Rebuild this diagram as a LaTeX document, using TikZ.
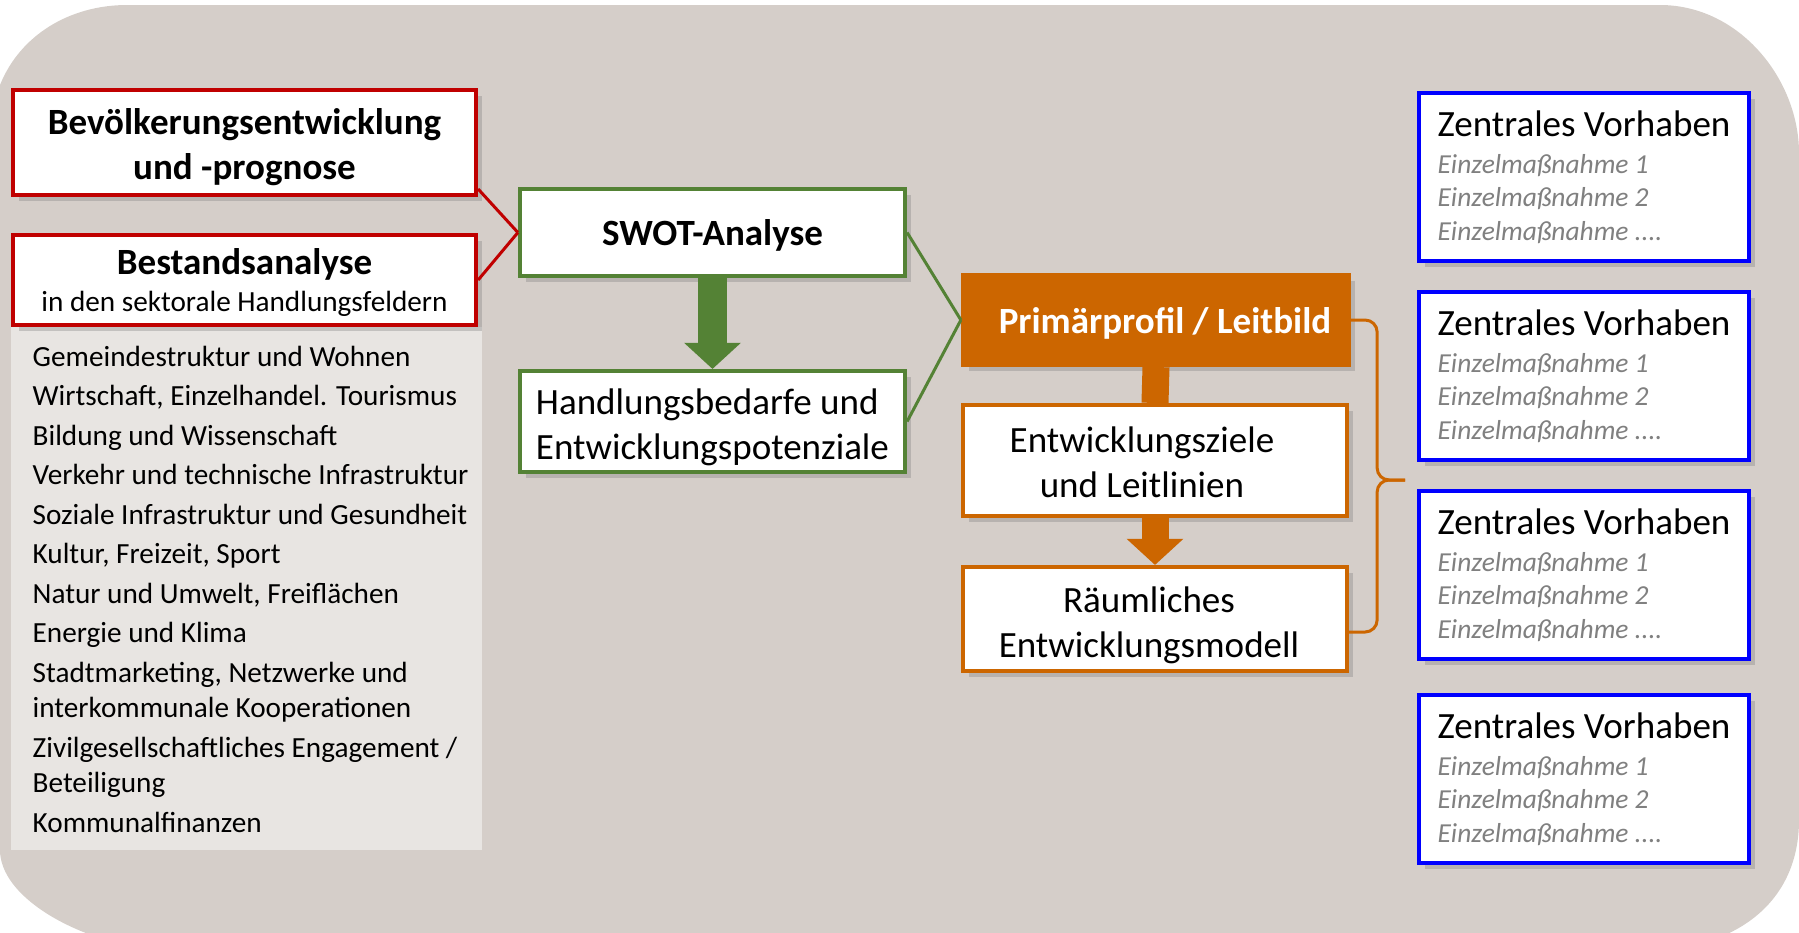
\documentclass[tikz,border=0pt]{standalone}
\usepackage{fontspec}
\setmainfont{Carlito}
\usepackage{xcolor}
\usetikzlibrary{arrows.meta, positioning, shadows}

\definecolor{bgbeige}{RGB}{213,206,201}
\definecolor{panelgray}{RGB}{232,229,226}
\definecolor{redLB}{RGB}{192,0,0}
\definecolor{greenLB}{RGB}{84,130,53}
\definecolor{orangeLB}{RGB}{204,102,0}
\definecolor{blueLB}{RGB}{0,0,255}
\definecolor{grayLB}{RGB}{128,128,128}

\newcommand{\sizeL}{\fontsize{10.53}{10.53}\selectfont}
\newcommand{\massnahme}[1]{{\itshape\color{grayLB}Einzelmaßnahme #1}}
% struts that fix where the text sits in a box
\newcommand{\padtop}[1]{\rule{0pt}{#1}}
\newcommand{\padbot}[1]{\rule[-#1]{0pt}{#1}}

\begin{document}
\begin{tikzpicture}[
  x=0.01cm, y=-0.01cm,
  box/.style={
    rectangle,
    draw=#1,
    line width=0.04cm,
    fill=white,
    inner sep=0pt,
    drop shadow={shadow xshift=0.06cm, shadow yshift=-0.06cm, opacity=0.35},
    align=center
  },
  vorhaben/.style={
    box=blueLB,
    minimum width=3.30cm,
    minimum height=1.68cm,
    align=left,
    font=\fontsize{7.8}{9.53}\selectfont
  },
  link/.style={
    draw=#1,
    line width=0.03cm
  },
  blockarrow/.style={
    draw=#1,
    -{Triangle[width=0.55cm, length=0.26cm]}
  }
]
\useasboundingbox (0,0) rectangle (1799,933);
\clip (0,0) rectangle (1799,933);

% Background
\fill[bgbeige] (127,5) -- (1660,5) .. controls (1740,5) and (1799,80) .. (1799,153)
  -- (1799,820) .. controls (1799,900) and (1740,945) .. (1660,950)
  -- (150,950) .. controls (70,938) and (0,895) .. (0,850)
  -- (0,85) .. controls (20,35) and (70,5) .. (127,5) -- cycle;

% Sectoral fields
\node[fill=panelgray, inner sep=0pt, minimum width=4.71cm, minimum height=5.23cm] (liste) at (246.5,588.5) {};
\node[anchor=north west, inner sep=0pt, align=left, font=\fontsize{8.31}{10.1}\selectfont] (felder) at (32,345) {%
  Gemeindestruktur und Wohnen\\[1.14pt]
  Wirtschaft, Einzelhandel. Tourismus\\[1.14pt]
  Bildung und Wissenschaft\\[1.14pt]
  Verkehr und technische Infrastruktur\\[1.14pt]
  Soziale Infrastruktur und Gesundheit\\[1.14pt]
  Kultur, Freizeit, Sport\\[1.14pt]
  Natur und Umwelt, Freiflächen\\[1.14pt]
  Energie und Klima\\[1.14pt]
  Stadtmarketing, Netzwerke und\\
  interkommunale Kooperationen\\[1.14pt]
  Zivilgesellschaftliches Engagement /\\
  Beteiligung\\[1.14pt]
  Kommunalfinanzen};

% Analysis boxes
\node[box=redLB, minimum width=4.63cm, minimum height=1.05cm, font=\bfseries\fontsize{10.53}{12.8}\selectfont] (bev) at (244.5,142.5) {\padtop{0.38cm}Bevölkerungsentwicklung\\und -prognose\padbot{0.10cm}};
\node[box=redLB, minimum width=4.63cm, minimum height=0.90cm, font=\fontsize{8.31}{10.6}\selectfont] (bestand) at (244.5,280) {\padtop{0.353cm}{\bfseries\sizeL Bestandsanalyse}\\in den sektorale Handlungsfeldern\padbot{0.10cm}};

\node[box=greenLB, minimum width=3.85cm, minimum height=0.87cm, font=\bfseries\sizeL] (swot) at (712.5,232.5) {\padtop{0.355cm}SWOT-Analyse\padbot{0.10cm}};
\node[box=greenLB, minimum width=3.85cm, minimum height=1.01cm, align=left, font=\fontsize{10.53}{12.8}\selectfont] (handl) at (712.5,421.5) {\padtop{0.405cm}Handlungsbedarfe und\\Entwicklungspotenziale\padbot{0.10cm}};

% Profile and goals
\node[box=orangeLB, fill=orangeLB, text=white, minimum width=3.86cm, minimum height=0.90cm, font=\bfseries\sizeL] (prim) at (1156,320) {\padtop{0.36cm}\hspace*{0.18cm}Primärprofil / Leitbild\padbot{0.10cm}};
\node[box=orangeLB, minimum width=3.84cm, minimum height=1.11cm, font=\fontsize{10.53}{12.8}\selectfont] (ziele) at (1155,460.5) {\padtop{0.38cm}Entwicklungsziele\hspace*{0.26cm}\\und Leitlinien\hspace*{0.26cm}\padbot{0.10cm}};
\node[box=orangeLB, minimum width=3.84cm, minimum height=1.04cm, font=\fontsize{10.53}{12.8}\selectfont] (raum) at (1155,619) {\padtop{0.41cm}Räumliches\hspace*{0.12cm}\\Entwicklungsmodell\hspace*{0.12cm}\padbot{0.10cm}};

% Central projects
\foreach \i/\y in {1/177, 2/376, 3/575, 4/779}
  \node[vorhaben] (vh\i) at (1584,\y) {{\sizeL Zentrales Vorhaben}\\[1.05pt]\massnahme{1}\\\massnahme{2}\\\massnahme{....}};

% Connections
\draw[link=redLB] ([yshift=0.08cm]bev.south east) -- (swot.west);
\draw[link=redLB] (bestand.east) -- (swot.west);
\draw[link=greenLB] (swot.east) -- (prim.west);
\draw[link=greenLB] (handl.east) -- (prim.west);
\draw[blockarrow=greenLB, line width=0.28cm] (swot.south) -- (handl.north);
\draw[orangeLB, line width=0.27cm] (prim.south) -- (ziele.north);
\draw[blockarrow=orangeLB, line width=0.27cm] (ziele.south) -- (raum.north);

% Brace towards the projects
\coordinate (bracetip) at (1405,480);
\draw[link=orangeLB, rounded corners=0.12cm] (prim.east) -- ++(0.26cm,0) |- (bracetip);
\draw[link=orangeLB, rounded corners=0.12cm] ([yshift=-0.13cm]raum.east) -- ++(0.28cm,0) |- (bracetip);
\end{tikzpicture}
\end{document}
